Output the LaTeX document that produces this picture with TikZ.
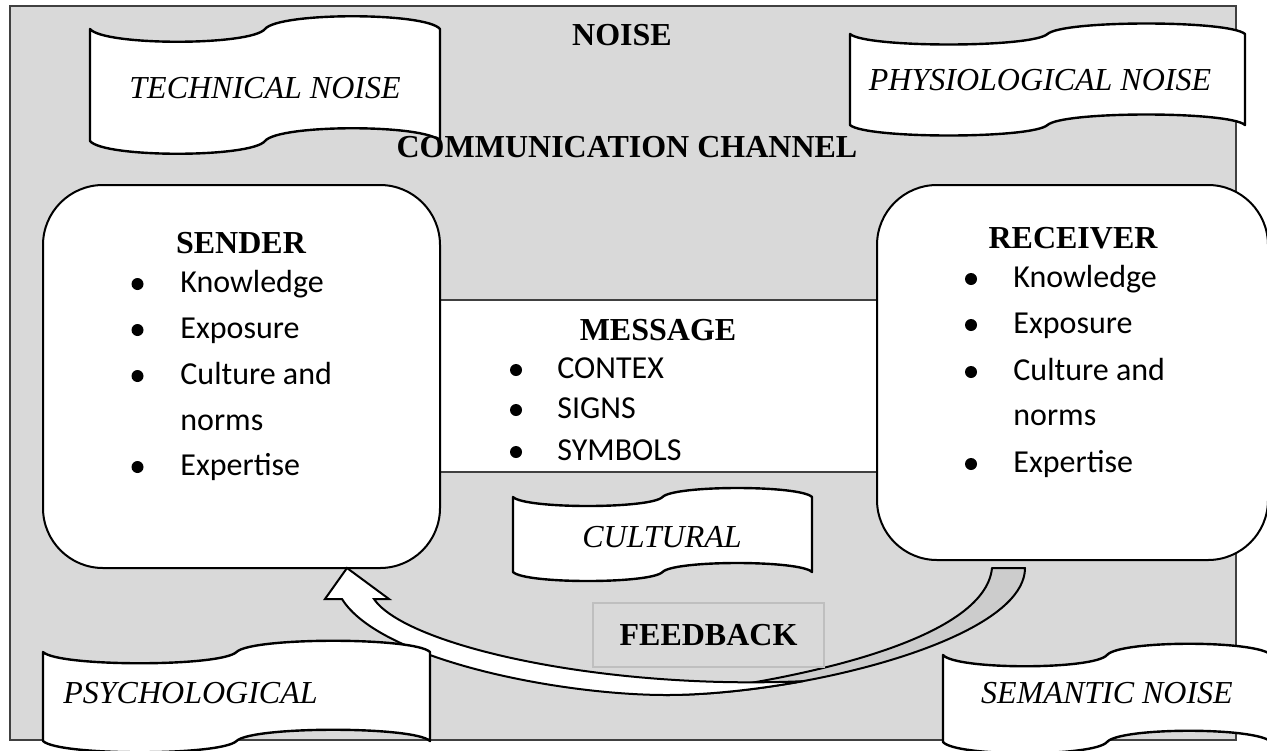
\documentclass[tikz,border=0pt]{standalone}
\usepackage{fontspec}
\setmainfont{Liberation Serif}
\newfontfamily\calibri{Carlito}
\usetikzlibrary{positioning}

\definecolor{channelgray}{HTML}{D9D9D9}
\definecolor{framegray}{HTML}{404040}
\definecolor{fbgray}{HTML}{BFBFBF}
\definecolor{tailgray}{HTML}{CCCCCC}

\tikzset{
  flag/.style={draw=black, fill=white, line width=1.2pt, line join=round},
  card/.style={draw=black, fill=white, line width=1pt, rounded corners=30pt, inner sep=0pt},
  head/.style={font=\bfseries\fontsize{16}{19}\selectfont, anchor=base, inner sep=0pt},
  noisetext/.style={font=\itshape\fontsize{16}{19}\selectfont, anchor=base, inner sep=0pt},
  item/.style={font=\calibri\fontsize{16}{19}\selectfont, anchor=base west, inner sep=0pt},
  dot/.style={circle, fill=black, inner sep=0pt, minimum size=6pt},
}

% wavy noise banner: left, right, top, height, bend
\newcommand{\noiseflag}[5]{%
  \draw[flag] (#1,#3)
    .. controls ({#1+0.04*(#2-#1)},{#3+#5}) and ({(#1+#2)/2-0.04*(#2-#1)},{#3+#5}) .. ({(#1+#2)/2},#3)
    .. controls ({(#1+#2)/2+0.04*(#2-#1)},{#3-#5}) and ({#2-0.04*(#2-#1)},{#3-#5}) .. (#2,#3)
    -- (#2,{#3+#4})
    .. controls ({#2-0.04*(#2-#1)},{#3+#4-#5}) and ({(#1+#2)/2+0.04*(#2-#1)},{#3+#4-#5}) .. ({(#1+#2)/2},{#3+#4})
    .. controls ({(#1+#2)/2-0.04*(#2-#1)},{#3+#4+#5}) and ({#1+0.04*(#2-#1)},{#3+#4+#5}) .. (#1,{#3+#4})
    -- cycle;}

\begin{document}
\begin{tikzpicture}[x=0.5pt, y=-0.5pt]
\useasboundingbox (0,0) rectangle (1267,750);
\fill[white] (0,0) rectangle (1267,750); % page
\draw[framegray, fill=channelgray, line width=0.8pt] (10,6) rectangle (1236,740); % channel frame

\node[head] (noise) at (622,45) {NOISE}; % title
\noiseflag{90}{440}{29}{112}{17} % technical banner
\node[noisetext] (technical) at (265,98) {TECHNICAL NOISE};
\noiseflag{850}{1245}{34}{91}{14} % physiological banner
\node[noisetext] (physiological) at (1040,90) {PHYSIOLOGICAL NOISE};
\node[head] (channel) at (627,157) {COMMUNICATION CHANNEL};

% message strip between the two cards
\node[draw=framegray, fill=white, line width=1pt, minimum width=230pt, minimum height=86pt, inner sep=0pt] (message) at (660,386) {};
\node[head] (msgtitle) at (658,340) {MESSAGE};
\foreach \y/\t [count=\i] in {378/CONTEX, 418/SIGNS, 460/SYMBOLS} {
  \node[dot] (mdot\i) at (516,\y-8) {};
  \node[item] (mitem\i) at (557,\y) {\t};
}

% sender card
\node[card, minimum width=198.5pt, minimum height=191.5pt] (sender) at (241.5,376.5) {};
\node[head] (sendtitle) at (241,253) {SENDER};
\foreach \y/\t [count=\i] in {292/Knowledge, 338/Exposure, 384/Culture and, 475/Expertise} {
  \node[dot] (sdot\i) at (137.5,\y-8) {};
  \node[item] (sitem\i) at (180,\y) {\t};
}
\node[item] (snorms) at (180,430) {norms};

% receiver card
\node[card, minimum width=195.5pt, minimum height=187.5pt] (receiver) at (1072.5,372.5) {};
\node[head] (recvtitle) at (1073,248) {RECEIVER};
\foreach \y/\t [count=\i] in {287/Knowledge, 333/Exposure, 380/Culture and, 472/Expertise} {
  \node[dot] (rdot\i) at (971,\y-8) {};
  \node[item] (ritem\i) at (1013,\y) {\t};
}
\node[item] (rnorms) at (1013,425) {norms};

\noiseflag{513}{812}{497}{75}{12} % cultural banner
\node[noisetext] (cultural) at (662,547) {CULTURAL};

% feedback arrow, back face then front face
\draw[fill=tailgray, line width=1pt, line join=round] (992,568) -- (1025,568)
  .. controls (1025,618.4) and (914.8,660.5) .. (802.6,681.2)
  .. controls (754.6,690) and (706.2,695) .. (666,695)
  .. controls (800,680) and (985,640) .. (992,568) -- cycle;
\draw[fill=white, line width=1pt, line join=miter] (347,568) -- (389,599) -- (374,599)
  .. controls (405,645) and (600,690) .. (802.6,681.2)
  .. controls (754.6,690) and (706.2,695) .. (666,695)
  .. controls (560,695) and (380,660) .. (342,599) -- (325,599) -- cycle;
\node[draw=fbgray, fill=channelgray, line width=1.2pt, minimum width=115.5pt, minimum height=32pt, inner sep=0pt,
      font=\bfseries\fontsize{16}{19}\selectfont] (feedback) at (708.5,635) {FEEDBACK};

\noiseflag{43}{430}{652}{89}{15} % psychological banner
\node[noisetext, anchor=base west] (psychological) at (63,703) {PSYCHOLOGICAL};
\noiseflag{943}{1271}{655}{87}{15} % semantic banner
\node[noisetext] (semantic) at (1107,703) {SEMANTIC NOISE};
\end{tikzpicture}
\end{document}
